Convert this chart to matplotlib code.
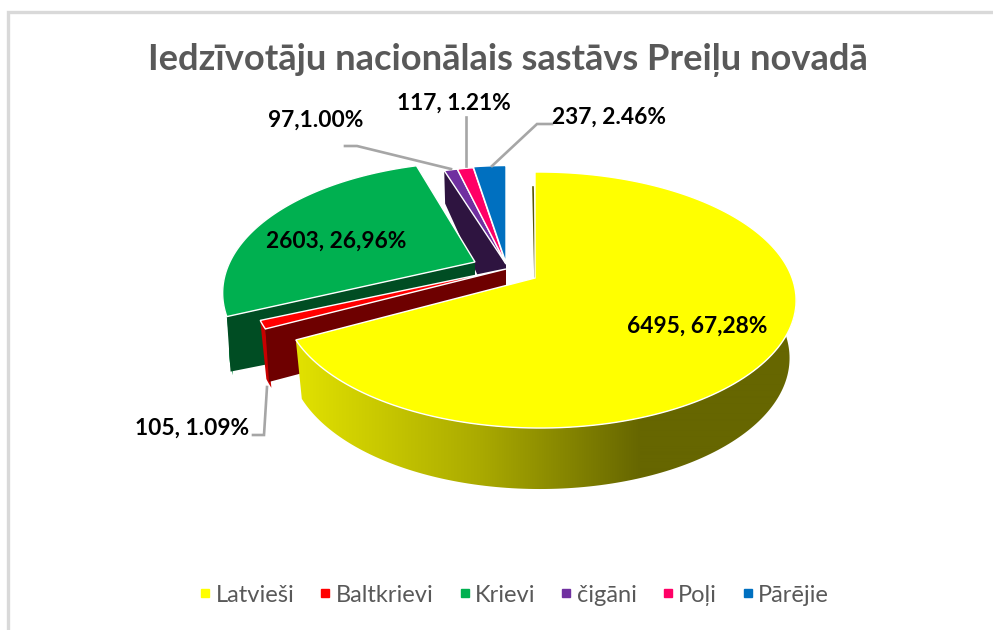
import numpy as np
import matplotlib
matplotlib.use("Agg")
import matplotlib.pyplot as plt
from matplotlib.patches import Polygon
from matplotlib.lines import Line2D

plt.rcParams['font.family'] = ['Lato', 'DejaVu Sans']

title = "Iedzīvotāju nacionālais sastāvs Preiļu novadā"
categories = ["Latvieši", "Baltkrievi", "Krievi", "čigāni", "Poļi", "Pārējie"]
values = [6495, 105, 2603, 97, 117, 237]
point_labels = ["6495, 67,28%", "105, 1.09%", "2603, 26,96%", "97,1.00%", "117, 1.21%", "237, 2.46%"]
colors = ["#FFFF00", "#FF0000", "#00B050", "#7030A0", "#FF0066", "#0070C0"]
wall_colors = ["#5A5A00", "#6E0000", "#004D23", "#2E1440", "#7F0033", "#003860"]
# per-slice explosion: apex position and perspective tweaks
apex_x = [535, 506, 475, 506, 506, 506]
apex_y = [278, 269, 262, 264, 264, 263]
yscale = [1.0, 0.97, 1.0, 0.92, 0.92, 0.92]
xscale = [1.011, 1.02, 1.0, 1.0, 1.0, 1.0]
persp_k = [0.172, 0.172, 0.24, 0.172, 0.172, 0.172]
persp_m = [0.017, 0.02, 0.02, 0.02, 0.02, 0.02]
# label anchor
label_xy = [(697, 326), (192, 428), (336, 241), (316, 120), (454, 103), (609, 117)]
leaders = [None,
           [(253, 435), (264, 435), (267, 387)],
           None,
           [(345, 146), (357, 146), (451, 169)],
           [(466, 117), (466, 166)],
           [(552, 124), (537, 124), (492, 166)]]

R, S = 250.0, 124.2


def rim(i, th):
    """Project points on the unit circle (angle clockwise from top) to the page."""
    u, v = np.sin(th), np.cos(th)
    w = 1 + persp_k[i] * v - persp_m[i] * u
    return apex_x[i] + R * xscale[i] * u / w, apex_y[i] - S * yscale[i] * v / w, v


def lower(i, x, y, v):
    depth = 57 - 4 * v
    return apex_x[i] + (x - apex_x[i]) * 0.975, y + depth


fractions = np.array(values) / np.sum(values)
edges = np.concatenate([[0], np.cumsum(fractions)]) * 2 * np.pi

fig = plt.figure(figsize=(9.93, 6.30), dpi=100, facecolor="white")
ax = fig.add_axes([0, 0, 1, 1])
ax.set_xlim(0, 993)
ax.set_ylim(630, 0)
ax.axis("off")

# chart frame (only top and left are in the crop)
ax.plot([7.5, 7.5, 993], [630, 11.5, 11.5], color="#D9D9D9", lw=2.4, solid_joinstyle="miter", zorder=1)


def face(i, z):
    th = np.linspace(edges[i], edges[i + 1], 160)
    x, y, _ = rim(i, th)
    pts = np.column_stack([np.r_[apex_x[i], x], np.r_[apex_y[i], y]])
    ax.add_patch(Polygon(pts, closed=True, fc=colors[i], ec="white", lw=1.0, zorder=z))


def wall(i, th0, z, rim_depth, apex_depth):
    x, y, _ = rim(i, np.array([th0]))
    lx = apex_x[i] + (x[0] - apex_x[i]) * 0.985
    pts = [(apex_x[i], apex_y[i]), (x[0], y[0]), (lx, y[0] + rim_depth),
           (apex_x[i], apex_y[i] + apex_depth)]
    ax.add_patch(Polygon(pts, closed=True, fc=wall_colors[i], ec="none", zorder=z))


def side(i, th0, th1, z, color):
    th = np.linspace(th0, th1, 160)
    x, y, v = rim(i, th)
    bx, by = lower(i, x, y, v)
    pts = np.column_stack([np.r_[x, bx[::-1]], np.r_[y, by[::-1]]])
    poly = Polygon(pts, closed=True, fc=color, ec="none", zorder=z)
    ax.add_patch(poly)
    return poly


# back group: purple wall, then pink and blue
wall(3, edges[3], 3, 33, 74)
for i in (3, 4, 5):
    face(i, 4)

# Krievi
side(2, edges[2], edges[2] + np.radians(45), 5, "#008C40")
wall(2, edges[2], 6, 55, 61)
face(2, 7)

# Baltkrievi
side(1, edges[1], edges[2], 8, "#C80000")
wall(1, edges[1], 9, 53, 50)
face(1, 10)

# Latvieši: thin wall at the start angle, shaded rim, face
xs, ys, _ = rim(0, np.array([edges[0]]))
ax.plot([apex_x[0], xs[0] - 2], [apex_y[0], ys[0] + 15], color="#5A5A00", lw=1.2, zorder=10)
poly = side(0, np.radians(72), edges[1], 11, "none")
stops_x = [296, 480, 640, 800]
stops_c = np.array([[226, 226, 0], [170, 170, 0], [102, 102, 0], [102, 102, 0]]) / 255
grad_x = np.arange(290, 805)
grad = np.column_stack([np.interp(grad_x, stops_x, stops_c[:, k]) for k in range(3)])[None, :, :]
im = ax.imshow(grad, extent=(290, 805, 500, 290), aspect="auto", zorder=11, interpolation="bilinear")
im.set_clip_path(poly)
ax.set_xlim(0, 993)
ax.set_ylim(630, 0)
face(0, 12)

# leaders and point labels
for pts in leaders:
    if pts:
        ax.plot(*zip(*pts), color="#A6A6A6", lw=1.9, zorder=13, solid_joinstyle="miter")
for txt, (lx, ly) in zip(point_labels, label_xy):
    ax.text(lx, ly, txt, ha="center", va="center", fontsize=16.4, fontweight="bold", color="black", zorder=14)

ax.text(507.5, 60, title, ha="center", va="center", fontsize=26.1, fontweight="bold", color="#595959", zorder=14)

handles = [Line2D([], [], ls="none", marker="s", ms=6.2, mfc=c, mec=c, label=n) for c, n in zip(colors, categories)]
ax.legend(handles=handles, ncol=6, loc="center", bbox_to_anchor=(512 / 993, 1 - 595 / 630), frameon=False,
          fontsize=17, labelcolor="#595959", handletextpad=0.0, columnspacing=0.85, handlelength=0.9)

fig.savefig("out.png", dpi=100, facecolor="white")
